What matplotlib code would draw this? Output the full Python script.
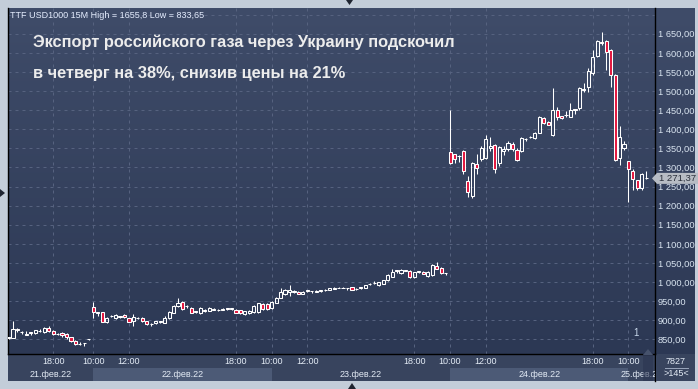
import matplotlib.pyplot as plt
from matplotlib.patches import Rectangle, Polygon
import numpy as np

plt.rcParams["font.family"] = ["Liberation Sans", "DejaVu Sans"]

W, H = 698, 389

# 15-minute TTF candles, 21.02 (partial) .. 25.02 (first bars)
opens = [
    # 21 Feb
    854, 854, 876, 870, 862, 868, 866, 872, 869, 880, 873, 865, 867, 863, 855, 846, 837, 840, 850,
    # 22 Feb
    935, 921, 921, 894, 910, 906, 910, 913, 905, 899, 907, 906, 898, 889, 892, 896, 893, 905, 920, 937,
    947, 938, 933, 922, 920, 925, 925, 928, 927, 928, 931, 930, 928, 927, 916, 918, 921, 922, 942, 942,
    # 23 Feb
    931, 946, 959, 969, 974, 975, 975, 969, 977, 977, 975, 977, 979, 979, 983, 985, 985, 985, 986, 981,
    986, 985, 994, 997, 992, 996, 1005, 1014, 1031, 1023, 1030, 1030, 1012, 1027, 1027, 1016, 1018, 1041, 1036, 1024,
    # 24 Feb
    1341, 1334, 1329, 1343, 1265, 1225, 1309, 1321, 1325, 1350, 1359, 1311, 1344, 1347, 1361, 1346, 1343, 1375, 1379, 1376,
    1391, 1429, 1420, 1386, 1450, 1434, 1437, 1433, 1452, 1455, 1504, 1511, 1546, 1592, 1628, 1631, 1607, 1542, 1326, 1350,
    # 25 Feb
    1317, 1290, 1266, 1245, 1272,
]
highs = [
    856, 898, 880, 871, 872, 868, 875, 876, 882, 884, 875, 866, 868, 866, 857, 849, 842, 841, 851,
    947, 921, 922, 909, 913, 915, 912, 917, 906, 915, 909, 908, 899, 893, 899, 899, 912, 925, 940, 957,
    950, 939, 935, 925, 935, 929, 934, 931, 930, 931, 933, 933, 929, 928, 925, 926, 939, 946, 945, 944,
    950, 962, 984, 983, 991, 978, 976, 977, 980, 977, 978, 980, 982, 985, 986, 986, 986, 985, 987, 984,
    986, 993, 998, 1003, 1000, 1006, 1022, 1034, 1032, 1033, 1031, 1031, 1027, 1030, 1028, 1028, 1046, 1052, 1040, 1024,
    1450, 1336, 1332, 1345, 1277, 1313, 1334, 1356, 1385, 1380, 1361, 1356, 1356, 1368, 1366, 1350, 1380, 1376, 1382, 1393,
    1436, 1432, 1421, 1508, 1458, 1436, 1448, 1468, 1453, 1510, 1520, 1560, 1607, 1635, 1655.8, 1634, 1610, 1544, 1408, 1370,
    1318, 1295, 1268, 1285, 1290,
]
lows = [
    852, 854, 868, 863, 861, 862, 865, 869, 866, 870, 861, 860, 856, 850, 844, 836, 834, 833.65, 849,
    907, 912, 895, 893, 908, 904, 906, 905, 894, 886, 902, 895, 888, 884, 890, 893, 892, 903, 918, 935,
    928, 933, 918, 919, 917, 921, 924, 926, 925, 926, 928, 928, 918, 916, 914, 916, 920, 920, 927, 928,
    929, 944, 957, 966, 963, 972, 968, 968, 975, 971, 973, 975, 977, 978, 981, 984, 984, 980, 979, 978,
    981, 984, 991, 995, 990, 994, 1003, 1012, 1024, 1021, 1029, 1011, 1011, 1024, 1020, 1012, 1017, 1033, 1022, 1018,
    1310, 1311, 1313, 1284, 1222, 1220, 1283, 1318, 1323, 1343, 1285, 1303, 1333, 1343, 1343, 1318, 1341, 1368, 1376, 1374,
    1389, 1413, 1410, 1383, 1423, 1427, 1432, 1431, 1439, 1450, 1498, 1498, 1542, 1590, 1620, 1555, 1511, 1317, 1306, 1345,
    1210, 1241, 1241, 1241, 1270,
]
closes = [
    855, 876, 875, 869, 863, 867, 874, 873, 879, 872, 863, 864, 861, 855, 846, 837, 838, 839, 850,
    921, 920, 896, 907, 911, 913, 909, 908, 896, 908, 906, 897, 890, 890, 898, 897, 907, 922, 937, 945,
    930, 937, 920, 923, 931, 926, 932, 929, 928, 929, 930, 931, 920, 918, 924, 925, 937, 944, 929, 930,
    948, 959, 975, 979, 978, 976, 969, 975, 978, 976, 976, 978, 980, 984, 984, 985.5, 985.5, 984, 980, 982,
    985, 992, 995, 998, 999, 1004, 1018, 1027, 1030, 1031, 1030.5, 1012, 1026, 1028, 1021, 1027, 1044, 1035, 1024, 1023,
    1311, 1322, 1330, 1291, 1236, 1311, 1298, 1352, 1374, 1356, 1296, 1354, 1348, 1364, 1347, 1320, 1376, 1374, 1380, 1391,
    1433, 1416, 1411, 1450, 1433, 1429, 1438, 1450, 1451, 1507, 1506, 1552, 1588, 1632, 1626, 1603, 1542, 1319, 1380, 1362,
    1295, 1269, 1246, 1283, 1271.37,
]

time_ticks = [10, 19, 27, 51, 59, 67, 91, 99, 107, 131, 139]
time_labels = ["18:00", "10:00", "12:00", "18:00", "10:00", "12:00",
               "18:00", "10:00", "12:00", "18:00", "10:00"]
day_starts = [0, 19, 59, 99, 139]
day_labels = ["21.фев.22", "22.фев.22", "23.фев.22", "24.фев.22", "25.фев.22"]
last_price = 1271.37
header = "TTF USD1000 15M High = 1655,8 Low = 833,65"
title_lines = ["Экспорт российского газа через Украину подскочил",
               "в четверг на 38%, снизив цены на 21%"]

XMIN, XMAX = -0.12, 144.95
YMIN, YMAX = 811.5, 1717.5


def fx(px):
    return px / W


def fy(py):
    return 1 - py / H


fig = plt.figure(figsize=(W / 100, H / 100), dpi=100, facecolor="#c3cdd9")

# gradient background for plot + right price scale
bg = fig.add_axes([fx(8), fy(354), (695 - 8) / W, (354 - 8) / H], zorder=0)
grad = np.linspace(0, 1, 256).reshape(-1, 1)
top_c = np.array([0x3f, 0x4c, 0x69]) / 255
bot_c = np.array([0x2c, 0x38, 0x54]) / 255
img = top_c * (1 - grad[..., None]) + bot_c * grad[..., None]
bg.imshow(img, aspect="auto", extent=[0, 1, 0, 1])
bg.set_axis_off()

ax = fig.add_axes([fx(8), fy(354), (655 - 8) / W, (354 - 8) / H], zorder=2)
ax.set_facecolor("none")
ax.set_xlim(XMIN, XMAX)
ax.set_ylim(YMIN, YMAX)

grid_kw = dict(color="#56627f", lw=0.72, dashes=(3, 4), zorder=1)
for v in np.arange(850, 1701, 50):
    ax.axhline(v, **grid_kw)
for t in time_ticks:
    ax.axvline(t, **grid_kw)

# candles
o = np.array(opens, dtype=float)
h = np.array(highs, dtype=float)
l = np.array(lows, dtype=float)
c = np.array(closes, dtype=float)
x = np.arange(len(o))
top = np.maximum(o, c)
bot = np.minimum(o, c)
up = c >= o

ax.vlines(x, top, h, color="white", lw=0.75, zorder=3)
ax.vlines(x, l, bot, color="white", lw=0.75, zorder=3)
ax.bar(x[up], (top - bot)[up], bottom=bot[up], width=0.7, facecolor="none",
       edgecolor="white", linewidth=0.75, zorder=4)
ax.bar(x[~up], (top - bot)[~up], bottom=bot[~up], width=0.7, facecolor="#e3173f",
       edgecolor="white", linewidth=0.75, zorder=4)

ax.set_xticks([])
ax.yaxis.tick_right()
ax.set_yticks(np.arange(850, 1651, 50))
ax.set_yticklabels([f"{v:,.2f}".replace(",", " ").replace(".", ",")
                    for v in np.arange(850, 1651, 50)])
ax.tick_params(axis="y", length=0, pad=2, labelsize=6.7, labelcolor="#d9e4f0")
ax.spines["top"].set_visible(False)
for s in ["left", "bottom", "right"]:
    ax.spines[s].set_color("black")
    ax.spines[s].set_linewidth(1.0)

# texts in plot
fig.text(fx(10), fy(17.5), header, fontsize=6.5, color="#e6eeff", va="baseline")
fig.text(fx(33), fy(46.7), title_lines[0], fontsize=11.8, fontweight="bold",
         color="#ececec", va="baseline")
fig.text(fx(33), fy(78.3), title_lines[1], fontsize=11.8, fontweight="bold",
         color="#ececec", va="baseline")
fig.text(fx(636), fy(333), "1", fontsize=7, color="#c9d8ea", ha="center", va="center")

# bottom time / date panel
axb = fig.add_axes([fx(8), fy(381), (655 - 8) / W, (381 - 354) / H], zorder=1)
axb.set_facecolor("#38445e")
axb.set_xlim(XMIN, XMAX)
axb.set_ylim(0, 1)
bounds = day_starts[1:] + [XMAX]
for i, (s, e) in enumerate(zip([XMIN] + day_starts[1:], bounds)):
    if i % 2 == 1:
        axb.axvspan(s, e, ymin=0, ymax=0.48, color="#4c5a76", lw=0)
    axb.text((s + e) / 2, 0.25, day_labels[i], fontsize=6.5, color="#e3ebf5",
             ha="center", va="center", clip_on=True)
for t, lab in zip(time_ticks, time_labels):
    axb.text(t, 0.72, lab, fontsize=6.5, color="#e3ebf5", ha="center", va="center")
axb.set_xticks([])
axb.set_yticks([])
for s in ["top", "left", "bottom"]:
    axb.spines[s].set_visible(False)
axb.spines["right"].set_color("black")
axb.spines["right"].set_linewidth(1.0)

# scroll thumb
fig.patches.append(Rectangle((fx(643), fy(381)), 10 / W, 29 / H, transform=fig.transFigure,
                             facecolor="#2a3450", alpha=0.55, edgecolor="none", zorder=5))
fig.patches.append(Polygon([(fx(643), fy(355)), (fx(653), fy(355)), (fx(648), fy(349))],
                           closed=True, transform=fig.transFigure, facecolor="#46526c",
                           edgecolor="none", zorder=5))

# bottom-right corner cell
fig.patches.append(Rectangle((fx(655.5), fy(381)), 39.5 / W, 27 / H, transform=fig.transFigure,
                             facecolor="#38445e", edgecolor="none", zorder=1))
fig.text(fx(676), fy(362), "7827", fontsize=6.5, color="#e3ebf5", ha="center", va="center")
fig.lines.append(plt.Line2D([fx(665), fx(688)], [fy(367.5), fy(367.5)], transform=fig.transFigure,
                            color="#9aa6bb", lw=0.7))
fig.text(fx(676), fy(374), ">145<", fontsize=6.5, color="#e3ebf5", ha="center", va="center")

# last price tag
py = 354 - (last_price - YMIN) / (YMAX - YMIN) * 346
fig.patches.append(Polygon([(fx(652), fy(py)), (fx(657), fy(py - 5.5)), (fx(698), fy(py - 5.5)),
                            (fx(698), fy(py + 5.5)), (fx(657), fy(py + 5.5))],
                           closed=True, transform=fig.transFigure, facecolor="#b7bcc4",
                           edgecolor="none", zorder=6))
fig.text(fx(659), fy(py), f"{last_price:,.2f}".replace(",", " ").replace(".", ","),
         fontsize=6.8, color="#2a2f3a", va="center", zorder=7)

# little scroll arrows of the terminal frame
for pts in ([(346, 0), (353, 0), (349.5, 5)],
            [(0, 189), (0, 197), (5, 193)],
            [(348, 389), (356, 389), (352, 383)]):
    fig.patches.append(Polygon([(fx(a), fy(b)) for a, b in pts], closed=True,
                               transform=fig.transFigure, facecolor="#1e2430",
                               edgecolor="none", zorder=6))

fig.savefig("out.png", dpi=100, facecolor=fig.get_facecolor())
